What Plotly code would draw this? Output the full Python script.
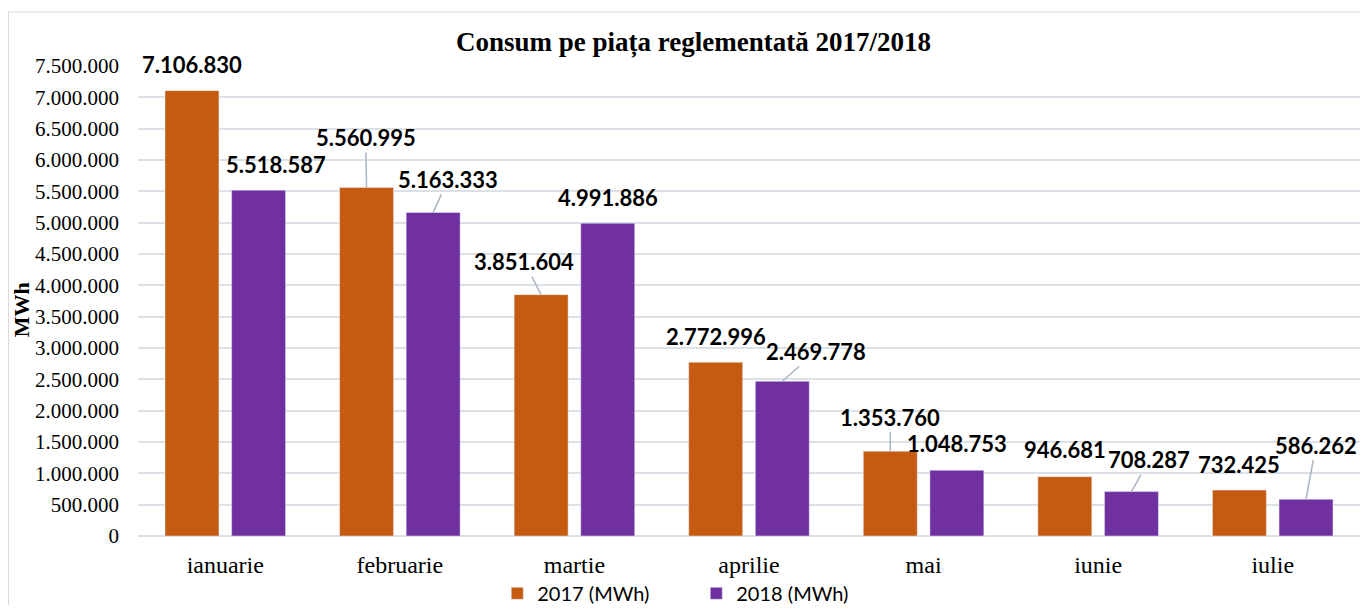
import plotly.graph_objects as go

months = ["ianuarie", "februarie", "martie", "aprilie", "mai", "iunie", "iulie"]
consum_2017 = [7106830, 5560995, 3851604, 2772996, 1353760, 946681, 732425]
consum_2018 = [5518587, 5163333, 4991886, 2469778, 1048753, 708287, 586262]

# label offsets (px) from bar top, and whether Excel drew a leader line
_OFF_2017 = [(0, -26, False), (-1, -50, True), (-17, -33, True), (0, -26, False),
             (0, -34, True), (0, -27, False), (0, -26, False)]
_OFF_2018 = [(17, -26, False), (15, -33, True), (0, -26, False), (34, -30, True),
             (0, -27, False), (18, -32, True), (10, -54, True)]

_ORANGE = "#C55A11"
_PURPLE = "#7030A0"
_GRID = "#DCE1E8"
_LEADER = "#A9B6C6"
_SERIF = "Liberation Serif, Times New Roman, serif"
_SANS = "Lato, Calibri, sans-serif"


def fmt(v):
    return f"{v:,}".replace(",", ".")


def label_annotations(values, offsets, xshift):
    out = []
    for m, v, (ax, ay, leader) in zip(months, values, offsets):
        out.append(
            dict(
                x=m,
                y=v,
                xref="x",
                yref="y",
                xshift=xshift,
                text=fmt(v),
                showarrow=True,
                arrowhead=0,
                arrowwidth=1.5,
                arrowcolor=_LEADER if leader else "rgba(0,0,0,0)",
                standoff=0,
                ax=ax,
                ay=ay,
                font=dict(family=_SANS, size=22, color="#000000", weight="bold"),
            )
        )
    return out


fig = go.Figure()

fig.add_trace(
    go.Bar(
        x=months,
        y=consum_2017,
        name="2017 (MWh)",
        marker=dict(color=_ORANGE),
    )
)
fig.add_trace(
    go.Bar(
        x=months,
        y=consum_2018,
        name="2018 (MWh)",
        marker=dict(color=_PURPLE),
    )
)

annotations = label_annotations(consum_2017, _OFF_2017, -33.3)
annotations += label_annotations(consum_2018, _OFF_2018, 33.3)

# y axis title, placed like Excel's (a bit below the plot centre)
annotations.append(
    dict(
        text="<b>MWh</b>",
        xref="paper",
        yref="paper",
        x=-0.095,
        y=0.482,
        xanchor="center",
        yanchor="middle",
        textangle=-90,
        showarrow=False,
        font=dict(family=_SERIF, size=22, color="#000000"),
    )
)

fig.update_layout(
    width=1352,
    height=597,
    margin=dict(l=130, r=0, t=58, b=69, autoexpand=False),
    paper_bgcolor="white",
    plot_bgcolor="white",
    barmode="group",
    bargap=0.237,
    bargroupgap=0.19,
    separators=",.",
    title=dict(
        text="<b>Consum pe piața reglementată 2017/2018</b>",
        x=0.507,
        xanchor="center",
        y=0.943,
        yanchor="middle",
        font=dict(family=_SERIF, size=27, color="#000000"),
    ),
    legend=dict(
        orientation="h",
        x=0.294,
        xanchor="left",
        y=-0.122,
        yanchor="middle",
        entrywidth=154,
        font=dict(family=_SANS, size=20, color="#000000"),
        bgcolor="rgba(0,0,0,0)",
    ),
    xaxis=dict(
        showgrid=False,
        showline=False,
        ticks="",
        ticklabelstandoff=12,
        tickfont=dict(family=_SERIF, size=24, color="#000000"),
    ),
    yaxis=dict(
        range=[0, 7500000],
        dtick=500000,
        tickformat=",d",
        showgrid=True,
        gridcolor=_GRID,
        gridwidth=1.5,
        zeroline=True,
        zerolinecolor=_GRID,
        zerolinewidth=1.5,
        ticks="",
        ticklabelstandoff=18,
        tickfont=dict(family=_SERIF, size=21, color="#000000"),
    ),
    annotations=annotations,
    shapes=[
        dict(
            type="rect",
            xref="paper",
            yref="paper",
            x0=-0.106,
            x1=1.02,
            y0=-0.3,
            y1=1.115,
            line=dict(color="#D9D9D9", width=1),
            layer="below",
        )
    ],
)

fig.write_html("out.html")
